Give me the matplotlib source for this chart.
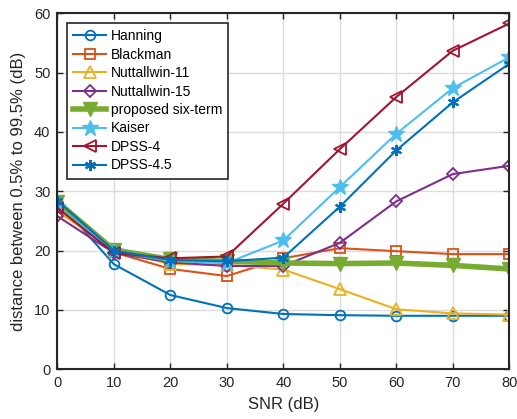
import numpy as np
import matplotlib
matplotlib.use('Agg')
import matplotlib.pyplot as plt

plt.rcParams['font.family'] = ['Liberation Sans', 'DejaVu Sans']

snr = [0, 10, 20, 30, 40, 50, 60, 70, 80]

hanning = [28.4, 17.7, 12.5, 10.3, 9.3, 9.1, 9.0, 9.0, 9.0]
blackman = [28.0, 19.7, 16.9, 15.7, 18.7, 20.4, 19.9, 19.4, 19.4]
nuttall11 = [26.6, 20.1, 17.7, 17.6, 16.8, 13.5, 10.1, 9.4, 9.2]
nuttall15 = [25.8, 19.6, 18.0, 17.4, 17.4, 21.3, 28.3, 32.9, 34.3]
proposed = [28.2, 20.1, 18.5, 18.2, 17.9, 17.8, 17.9, 17.5, 16.9]
kaiser = [27.4, 20.0, 18.3, 17.9, 21.7, 30.7, 39.7, 47.4, 52.6]
dpss4 = [27.2, 19.6, 18.7, 19.0, 27.9, 37.1, 45.9, 53.7, 58.3]
dpss45 = [28.4, 20.0, 18.4, 18.2, 18.8, 27.4, 36.9, 45.0, 51.5]

series = [
    ('Hanning', hanning, '#0072BD', 'o', 1.5, 7),
    ('Blackman', blackman, '#D95319', 's', 1.5, 7),
    ('Nuttallwin-11', nuttall11, '#EDB120', '^', 1.5, 8),
    ('Nuttallwin-15', nuttall15, '#7E2F8E', 'D', 1.5, 6.5),
    ('proposed six-term', proposed, '#77AC30', 'v', 4, 10),
    ('Kaiser', kaiser, '#4DBEEE', '*', 1.5, 12),
    ('DPSS-4', dpss4, '#A2142F', '<', 1.5, 8),
    ('DPSS-4.5', dpss45, '#0072BD', (6, 2, 0), 1.5, 8),
]

fig = plt.figure(figsize=(5.17, 4.19), dpi=100)
ax = fig.add_axes([0.111, 0.119, 0.874, 0.849])

for name, vals, col, mk, lw, ms in series:
    if name in ('proposed six-term', 'Kaiser'):
        ax.plot(snr, vals, color=col, marker=mk, lw=lw, ms=ms, mfc=col, mec=col, label=name)
    elif name == 'DPSS-4.5':
        ax.plot(snr, vals, color=col, marker=mk, lw=lw, ms=ms, mew=1.5, label=name)
    else:
        ax.plot(snr, vals, color=col, marker=mk, lw=lw, ms=ms, mfc='none', mec=col, mew=1.3, label=name)

ax.set_xlim(0, 80)
ax.set_ylim(0, 60)
ax.set_xticks(np.arange(0, 81, 10))
ax.set_yticks(np.arange(0, 61, 10))
ax.grid(True, color='#dcdcdc', lw=1)
ax.set_axisbelow(True)
ax.tick_params(direction='in', top=True, right=True, labelsize=10.5, length=4, width=1,
               colors='#262626', pad=5)
for s in ax.spines.values():
    s.set_linewidth(1.5)
    s.set_color('#262626')
ax.set_xlabel('SNR (dB)', fontsize=12, color='#262626', labelpad=5)
ax.set_ylabel('distance between 0.5% to 99.5% (dB)', fontsize=12, color='#262626', labelpad=6)

leg = ax.legend(loc='upper left', bbox_to_anchor=(0.021, 0.973), fontsize=10, fancybox=False,
                framealpha=1, edgecolor='#262626', borderpad=0.45, labelspacing=0.32,
                handlelength=2.4, handletextpad=0.3, borderaxespad=0)
leg.get_frame().set_linewidth(1.2)

fig.savefig('out.png', dpi=100)
